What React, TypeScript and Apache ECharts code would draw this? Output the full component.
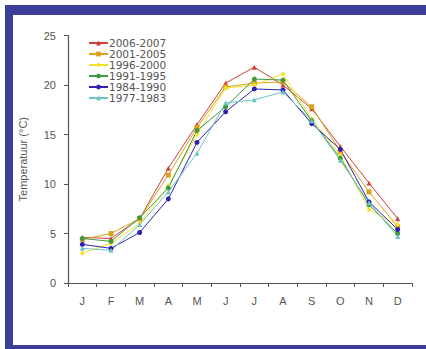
import React, { useEffect, useRef } from "react";
import * as echarts from "echarts";

const months = ["J", "F", "M", "A", "M", "J", "J", "A", "S", "O", "N", "D"];
const yTicks = [0, 5, 10, 15, 20, 25];

const s2006_2007 = [4.6, 4.5, 6.5, 11.6, 16.0, 20.2, 21.8, 20.0, 17.6, 13.8, 10.1, 6.5];
const s2001_2005 = [4.4, 5.0, 6.5, 10.9, 15.7, 19.8, 20.2, 20.3, 17.8, 13.3, 9.2, 5.7];
const s1996_2000 = [3.0, 4.0, 6.0, 9.8, 15.0, 19.7, 20.0, 21.1, 16.6, 12.9, 7.4, 5.9];
const s1991_1995 = [4.5, 4.2, 6.6, 9.6, 15.4, 17.8, 20.6, 20.5, 16.4, 12.6, 7.9, 5.0];
const s1984_1990 = [3.9, 3.5, 5.1, 8.5, 14.2, 17.3, 19.6, 19.5, 16.1, 13.5, 8.2, 5.4];
const s1977_1983 = [3.5, 3.3, 5.9, 9.2, 13.1, 18.2, 18.5, 19.3, 16.4, 12.4, 8.1, 4.7];

const seriesDefs = [
  { name: "2006-2007", data: s2006_2007, color: "#d0403a", symbol: "triangle" },
  { name: "2001-2005", data: s2001_2005, color: "#d9a21c", symbol: "rect" },
  { name: "1996-2000", data: s1996_2000, color: "#f2e22a", symbol: "diamond" },
  { name: "1991-1995", data: s1991_1995, color: "#3f9a3f", symbol: "circle" },
  { name: "1984-1990", data: s1984_1990, color: "#2f22b0", symbol: "circle" },
  { name: "1977-1983", data: s1977_1983, color: "#6fc4c4", symbol: "triangle" },
];

export default function App() {
  const ref = useRef<HTMLDivElement>(null);
  useEffect(() => {
    if (!ref.current) return;
    const chart = echarts.init(ref.current, null, { renderer: "svg" });
    const font = "Liberation Sans, Arial, sans-serif";
    chart.setOption({
      animation: false,
      backgroundColor: "#ffffff",
      textStyle: { fontFamily: font },
      graphic: [
        { type: "rect", shape: { x: 5, y: 5, width: 421, height: 10 }, style: { fill: "#3b3f98" }, z: 100 },
        { type: "rect", shape: { x: 5, y: 5, width: 8, height: 344 }, style: { fill: "#3b3f98" }, z: 100 },
        { type: "rect", shape: { x: 5, y: 345, width: 421, height: 4 }, style: { fill: "#3b3f98" }, z: 100 },
      ],
      grid: { left: 68, top: 35.5, right: 14, bottom: 66, containLabel: false },
      legend: {
        orient: "vertical",
        left: 83,
        top: 32.5,
        itemWidth: 19,
        itemHeight: 6,
        itemGap: 0,
        textStyle: {
          fontSize: 10.5,
          color: "#555",
          fontFamily: "DejaVu Sans, sans-serif",
          padding: [0, 0, 0, -4],
        },
        data: seriesDefs.map((s) => s.name),
      },
      xAxis: {
        type: "category",
        data: months,
        boundaryGap: true,
        axisLine: { lineStyle: { color: "#555", width: 1.2 } },
        axisTick: { show: true, length: 4, lineStyle: { color: "#555" } },
        axisLabel: { color: "#555", fontSize: 11, margin: 12, fontFamily: font },
      },
      yAxis: {
        type: "value",
        min: 0,
        max: 25,
        interval: 5,
        name: "Temperatuur (°C)",
        nameLocation: "middle",
        nameGap: 40,
        nameTextStyle: { color: "#555", fontSize: 11, fontFamily: font },
        axisLine: { show: true, lineStyle: { color: "#555", width: 1.2 } },
        axisTick: { show: true, length: 4, lineStyle: { color: "#555" } },
        splitLine: { show: false },
        axisLabel: {
          color: "#555",
          fontSize: 11,
          margin: 12,
          fontFamily: font,
          formatter: (v: number) => (yTicks.includes(v) ? String(v) : ""),
        },
      },
      series: seriesDefs.map((s) => ({
        name: s.name,
        type: "line",
        data: s.data,
        symbol: s.symbol,
        symbolSize: 5,
        showSymbol: true,
        color: s.color,
        lineStyle: { width: 1, color: s.color },
        itemStyle: { color: s.color },
      })),
    });
    return () => chart.dispose();
  }, []);
  return (
    <div
      ref={ref}
      style={{ position: "fixed", left: 0, top: 0, width: 426, height: 349 }}
    />
  );
}
